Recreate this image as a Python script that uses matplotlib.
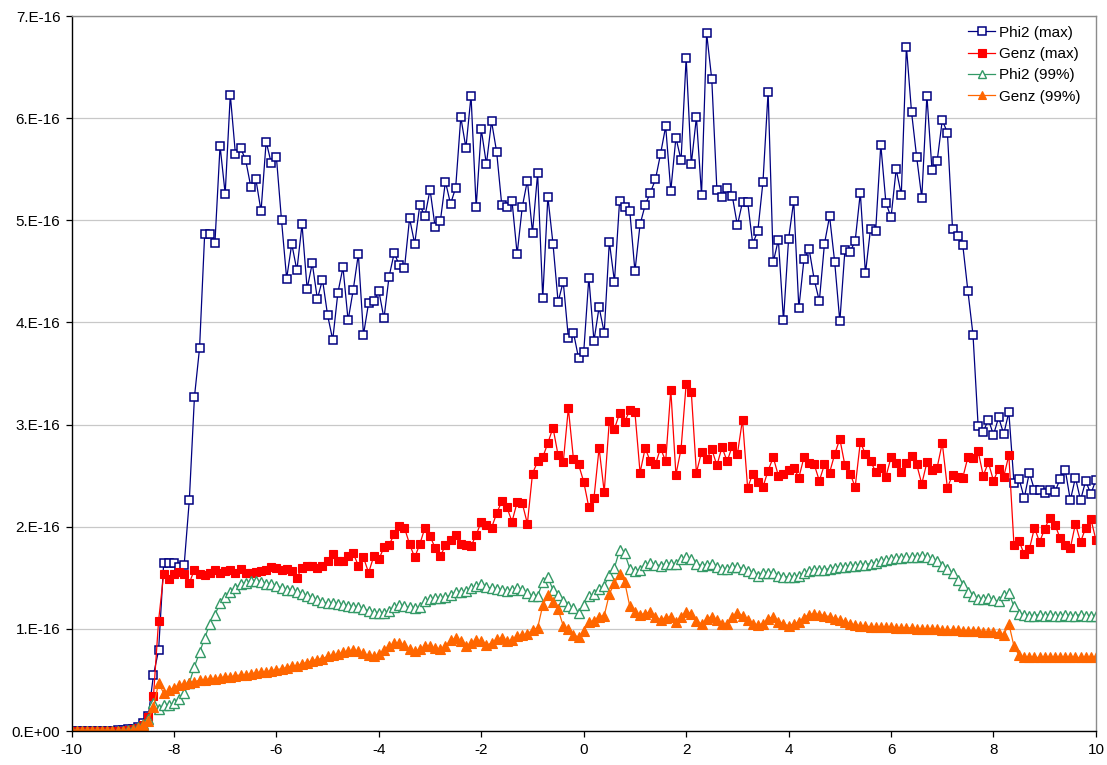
import numpy as np
import matplotlib
matplotlib.use("Agg")
import matplotlib.pyplot as plt

# x grid: -10 .. 10 step 0.1
x = np.linspace(-10, 10, 201)

# values in units of 1E-16
phi2_max = [
    0, 0, 0, 0, 0, 0, 0, 0, 0.005, 0.01,
    0.01, 0.02, 0.02, 0.04, 0.08, 0.15, 0.55, 0.79, 1.65, 1.65,
    1.65, 1.61, 1.63, 2.26, 3.27, 3.75, 4.87, 4.87, 4.78, 5.73,
    5.26, 6.23, 5.65, 5.71, 5.59, 5.33, 5.40, 5.09, 5.77, 5.56,
    5.62, 5.00, 4.43, 4.77, 4.51, 4.96, 4.33, 4.58, 4.23, 4.42,
    4.07, 3.83, 4.29, 4.54, 4.02, 4.32, 4.67, 3.88, 4.19, 4.21,
    4.31, 4.04, 4.45, 4.68, 4.56, 4.53, 5.02, 4.77, 5.15, 5.04,
    5.30, 4.93, 4.99, 5.38, 5.16, 5.32, 6.01, 5.71, 6.22, 5.13,
    5.89, 5.55, 5.97, 5.67, 5.15, 5.13, 5.19, 4.67, 5.13, 5.39,
    4.88, 5.46, 4.24, 5.23, 4.77, 4.20, 4.40, 3.85, 3.90, 3.65,
    3.71, 4.44, 3.82, 4.15, 3.90, 4.79, 4.40, 5.19, 5.13, 5.09,
    4.50, 4.96, 5.15, 5.27, 5.40, 5.65, 5.92, 5.29, 5.81, 5.59,
    6.59, 5.55, 6.01, 5.25, 6.83, 6.38, 5.30, 5.23, 5.32, 5.24,
    4.95, 5.18, 5.18, 4.77, 4.90, 5.38, 6.26, 4.59, 4.81, 4.02,
    4.82, 5.19, 4.14, 4.62, 4.72, 4.42, 4.21, 4.77, 5.04, 4.59,
    4.01, 4.71, 4.69, 4.80, 5.27, 4.48, 4.92, 4.90, 5.74, 5.17,
    5.03, 5.50, 5.25, 6.70, 6.06, 5.62, 5.22, 6.22, 5.49, 5.58,
    5.98, 5.86, 4.92, 4.85, 4.76, 4.31, 3.88, 2.99, 2.93, 3.05,
    2.90, 3.07, 2.91, 3.12, 2.43, 2.47, 2.28, 2.53, 2.36, 2.36,
    2.33, 2.36, 2.34, 2.47, 2.56, 2.26, 2.48, 2.26, 2.45, 2.32,
    2.46,
]

genz_max = [
    0, 0, 0, 0, 0, 0, 0, 0, 0, 0,
    0, 0.01, 0.02, 0.03, 0.06, 0.14, 0.34, 1.08, 1.54, 1.49,
    1.54, 1.56, 1.54, 1.45, 1.58, 1.54, 1.53, 1.55, 1.58, 1.55,
    1.57, 1.58, 1.55, 1.59, 1.55, 1.55, 1.56, 1.57, 1.58, 1.61,
    1.60, 1.58, 1.59, 1.57, 1.50, 1.60, 1.62, 1.62, 1.60, 1.62,
    1.66, 1.73, 1.66, 1.66, 1.71, 1.74, 1.62, 1.70, 1.55, 1.71,
    1.68, 1.80, 1.82, 1.93, 2.01, 1.99, 1.83, 1.70, 1.83, 1.99,
    1.91, 1.79, 1.71, 1.82, 1.87, 1.92, 1.83, 1.82, 1.81, 1.92,
    2.05, 2.02, 1.99, 2.13, 2.25, 2.19, 2.05, 2.24, 2.23, 2.03,
    2.52, 2.64, 2.68, 2.82, 2.97, 2.70, 2.63, 3.16, 2.66, 2.61,
    2.44, 2.19, 2.28, 2.77, 2.34, 3.04, 2.96, 3.11, 3.03, 3.14,
    3.12, 2.53, 2.77, 2.64, 2.61, 2.77, 2.64, 3.34, 2.51, 2.76,
    3.40, 3.32, 2.53, 2.73, 2.66, 2.76, 2.60, 2.78, 2.64, 2.79,
    2.71, 3.05, 2.38, 2.52, 2.44, 2.39, 2.55, 2.68, 2.50, 2.52,
    2.56, 2.58, 2.48, 2.68, 2.62, 2.61, 2.45, 2.61, 2.53, 2.71,
    2.86, 2.60, 2.52, 2.39, 2.83, 2.71, 2.64, 2.54, 2.58, 2.49,
    2.68, 2.62, 2.54, 2.62, 2.69, 2.61, 2.42, 2.63, 2.56, 2.58,
    2.82, 2.38, 2.51, 2.49, 2.48, 2.68, 2.67, 2.74, 2.50, 2.63,
    2.45, 2.57, 2.49, 2.70, 1.82, 1.86, 1.73, 1.78, 1.99, 1.85,
    1.98, 2.09, 2.02, 1.89, 1.82, 1.79, 2.03, 1.85, 1.99, 2.08,
    1.87,
]

phi2_99 = [
    0, 0, 0, 0, 0, 0, 0, 0, 0, 0,
    0, 0.01, 0.02, 0.04, 0.07, 0.12, 0.27, 0.22, 0.25, 0.25,
    0.27, 0.31, 0.37, 0.47, 0.63, 0.77, 0.91, 1.05, 1.14, 1.25,
    1.31, 1.36, 1.40, 1.44, 1.45, 1.47, 1.47, 1.46, 1.44, 1.44,
    1.42, 1.40, 1.38, 1.38, 1.36, 1.34, 1.32, 1.30, 1.28, 1.26,
    1.25, 1.25, 1.24, 1.23, 1.22, 1.21, 1.21, 1.19, 1.18, 1.16,
    1.16, 1.16, 1.18, 1.21, 1.23, 1.22, 1.21, 1.20, 1.21, 1.27,
    1.29, 1.30, 1.30, 1.31, 1.33, 1.36, 1.36, 1.37, 1.40, 1.42,
    1.44, 1.41, 1.40, 1.39, 1.38, 1.37, 1.38, 1.40, 1.38, 1.35,
    1.32, 1.32, 1.46, 1.51, 1.38, 1.33, 1.27, 1.22, 1.20, 1.16,
    1.23, 1.32, 1.34, 1.39, 1.42, 1.53, 1.60, 1.77, 1.74, 1.59,
    1.57, 1.58, 1.63, 1.65, 1.63, 1.62, 1.64, 1.64, 1.64, 1.68,
    1.70, 1.68, 1.64, 1.62, 1.63, 1.64, 1.61, 1.59, 1.59, 1.61,
    1.61, 1.59, 1.57, 1.55, 1.52, 1.55, 1.55, 1.55, 1.52, 1.51,
    1.51, 1.51, 1.52, 1.55, 1.57, 1.58, 1.58, 1.58, 1.59, 1.60,
    1.61, 1.61, 1.62, 1.62, 1.63, 1.63, 1.64, 1.65, 1.66, 1.67,
    1.68, 1.69, 1.69, 1.70, 1.70, 1.70, 1.71, 1.70, 1.68, 1.66,
    1.62, 1.59, 1.55, 1.48, 1.43, 1.36, 1.32, 1.29, 1.29, 1.30,
    1.28, 1.27, 1.33, 1.35, 1.22, 1.15, 1.14, 1.13, 1.13, 1.14,
    1.13, 1.14, 1.13, 1.13, 1.14, 1.13, 1.13, 1.14, 1.13, 1.13,
    1.13,
]

genz_99 = [
    0, 0, 0, 0, 0, 0, 0, 0, 0, 0,
    0, 0, 0.01, 0.03, 0.06, 0.10, 0.24, 0.47, 0.37, 0.40,
    0.42, 0.45, 0.46, 0.47, 0.48, 0.50, 0.50, 0.51, 0.51, 0.52,
    0.53, 0.53, 0.54, 0.55, 0.55, 0.56, 0.57, 0.58, 0.58, 0.59,
    0.60, 0.61, 0.62, 0.64, 0.64, 0.66, 0.67, 0.69, 0.70, 0.71,
    0.73, 0.74, 0.75, 0.77, 0.78, 0.79, 0.78, 0.76, 0.74, 0.73,
    0.75, 0.79, 0.83, 0.86, 0.86, 0.84, 0.80, 0.78, 0.80, 0.83,
    0.83, 0.81, 0.80, 0.83, 0.89, 0.91, 0.88, 0.83, 0.86, 0.89,
    0.88, 0.84, 0.86, 0.90, 0.91, 0.88, 0.89, 0.93, 0.94, 0.95,
    0.99, 1.01, 1.23, 1.33, 1.26, 1.19, 1.03, 1.00, 0.94, 0.92,
    0.98, 1.07, 1.08, 1.12, 1.13, 1.34, 1.45, 1.54, 1.46, 1.22,
    1.17, 1.14, 1.15, 1.17, 1.12, 1.09, 1.11, 1.12, 1.07, 1.12,
    1.17, 1.15, 1.08, 1.05, 1.10, 1.12, 1.09, 1.05, 1.05, 1.12,
    1.16, 1.13, 1.09, 1.05, 1.04, 1.05, 1.10, 1.12, 1.07, 1.05,
    1.03, 1.05, 1.07, 1.11, 1.14, 1.15, 1.14, 1.13, 1.12, 1.10,
    1.09, 1.07, 1.05, 1.04, 1.03, 1.03, 1.02, 1.02, 1.02, 1.02,
    1.02, 1.01, 1.01, 1.01, 1.01, 1.00, 1.00, 1.00, 1.00, 1.00,
    0.99, 0.99, 0.99, 0.99, 0.98, 0.98, 0.98, 0.98, 0.97, 0.97,
    0.97, 0.96, 0.94, 1.05, 0.83, 0.74, 0.72, 0.72, 0.72, 0.72,
    0.72, 0.72, 0.72, 0.72, 0.72, 0.72, 0.72, 0.72, 0.72, 0.72,
    0.72,
]

series_labels = ["Phi2 (max)", "Genz (max)", "Phi2 (99%)", "Genz (99%)"]
x_ticks = [-10, -8, -6, -4, -2, 0, 2, 4, 6, 8, 10]
y_ticks = [0, 1, 2, 3, 4, 5, 6, 7]
y_tick_labels = ["0.E+00", "1.E-16", "2.E-16", "3.E-16",
                 "4.E-16", "5.E-16", "6.E-16", "7.E-16"]
scale = 1e-16

plt.rcParams['font.family'] = ['Liberation Sans', 'DejaVu Sans']

fig = plt.figure(figsize=(11.07, 7.65), dpi=100)
ax = fig.add_axes([0.0646, 0.0444, 0.9254, 0.9346])

ax.plot(x, np.array(phi2_max) * scale, color='#000080', lw=0.9,
        marker='s', ms=6, mfc='white', mec='#000080', mew=1.1,
        label=series_labels[0])
ax.plot(x, np.array(genz_max) * scale, color='#FF0000', lw=0.9,
        marker='s', ms=6, mfc='#FF0000', mec='#FF0000', mew=0.8,
        label=series_labels[1])
ax.plot(x, np.array(phi2_99) * scale, color='#339966', lw=0.9,
        marker='^', ms=6.5, mfc='white', mec='#339966', mew=1.0,
        label=series_labels[2])
ax.plot(x, np.array(genz_99) * scale, color='#FF6600', lw=0.9,
        marker='^', ms=6.5, mfc='#FF6600', mec='#FF6600', mew=0.8,
        label=series_labels[3])

ax.set_xlim(-10, 10)
ax.set_ylim(0, 7e-16)
ax.set_xticks(x_ticks)
ax.set_xticklabels([str(t) for t in x_ticks])
ax.set_yticks([t * scale for t in y_ticks])
ax.set_yticklabels(y_tick_labels)

ax.grid(axis='y', color='#C8C8C8', lw=0.9)
ax.set_axisbelow(True)
ax.tick_params(direction='out', width=0.9, labelsize=11, colors='black')
ax.tick_params(axis='y', length=4, pad=4)
ax.tick_params(axis='x', length=4.3, pad=4)
for side in ('top', 'right'):
    ax.spines[side].set_color('#8C8C8C')
    ax.spines[side].set_linewidth(1.0)
for side in ('left', 'bottom'):
    ax.spines[side].set_color('black')
    ax.spines[side].set_linewidth(1.0)

leg = ax.legend(loc='upper left', bbox_to_anchor=(0.8745, 0.9664),
                bbox_transform=fig.transFigure, frameon=False,
                fontsize=11, handlelength=1.77, handletextpad=0.26,
                labelspacing=0.48, borderpad=0, borderaxespad=0)
for h in leg.legend_handles:
    h.set_markersize(6)

fig.savefig("out.png", dpi=100)
